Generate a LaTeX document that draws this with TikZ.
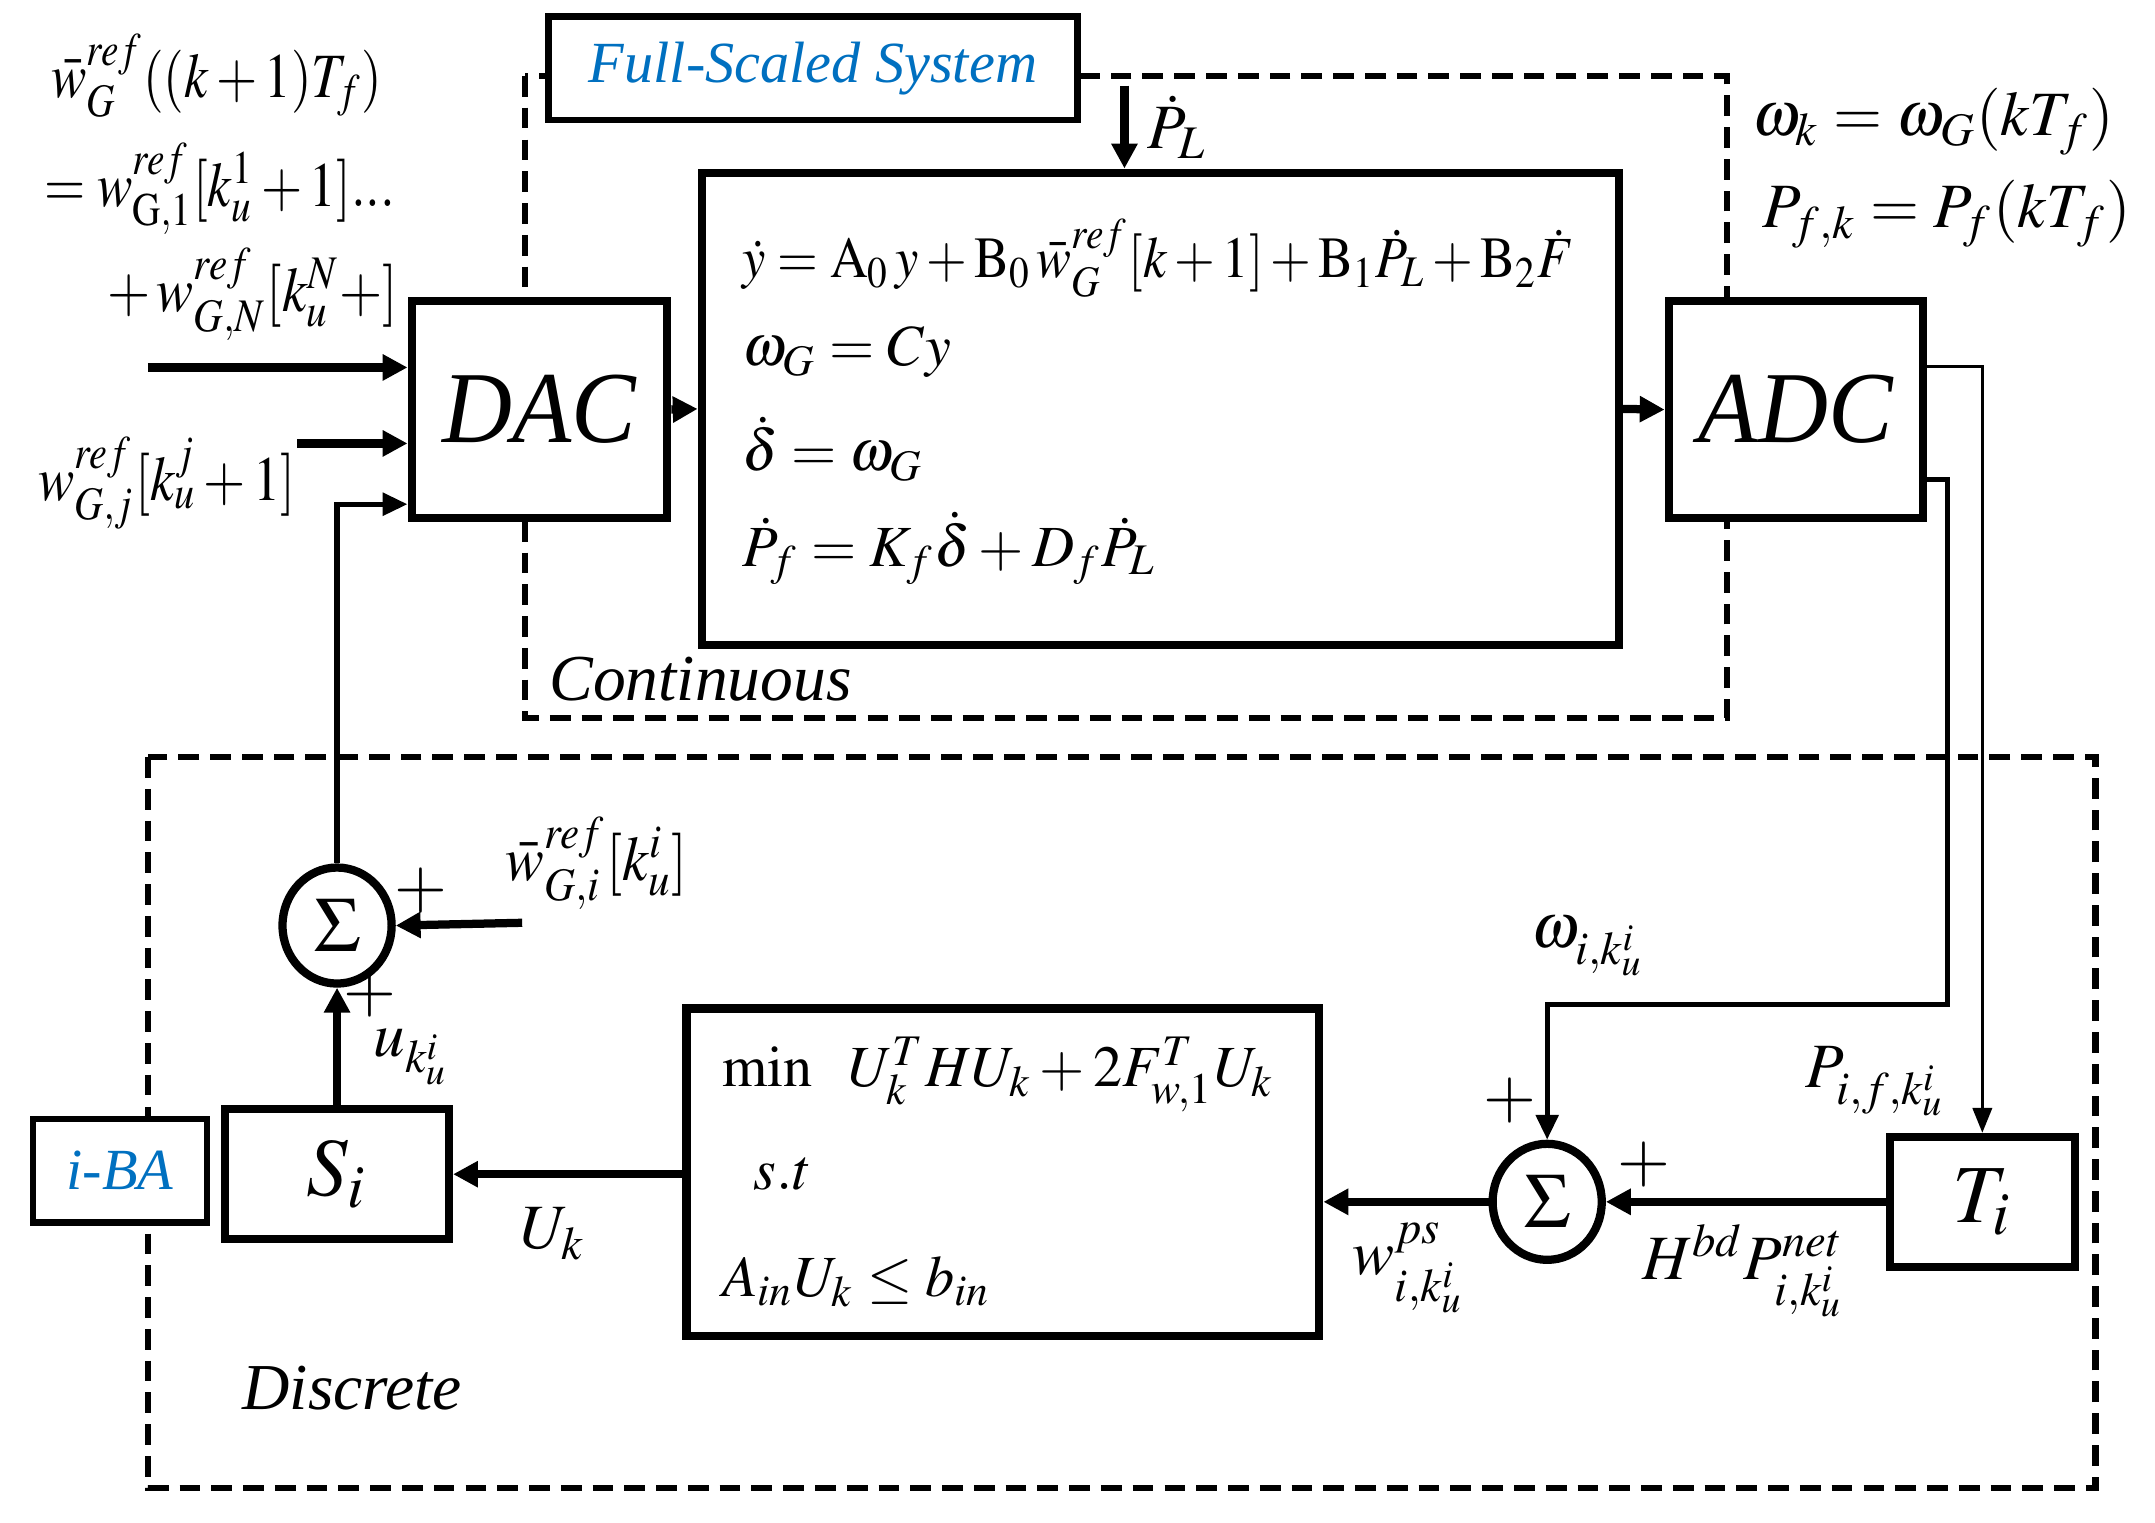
\documentclass[tikz,border=0pt]{standalone}
\usepackage{mathptmx}
\usepackage[no-math]{fontspec}
\setmainfont{Liberation Serif}
\usetikzlibrary{arrows.meta,shapes.geometric}
\definecolor{baBlue}{RGB}{0,112,192}
\newcommand{\hsq}[2]{\scalebox{#1}[1]{#2}}
\begin{document}
\begin{tikzpicture}[x=0.1mm,y=-0.1mm,
  blk/.style={draw, line width=1.7pt, fill=white, inner sep=0pt},
  lbox/.style={draw, line width=1.3pt, fill=white, inner sep=0pt},
  dbox/.style={draw, line width=1.3pt, dash pattern=on 1.5mm off 0.8mm},
  thk/.style={line width=1.7pt, -{Triangle[length=1.8mm,width=1.8mm]}},
  med/.style={line width=1.1pt, -{Triangle[length=1.8mm,width=1.6mm]}},
  thn/.style={line width=0.6pt, -{Triangle[length=1.8mm,width=1.4mm]}},
  sumc/.style={draw, line width=1.7pt, ellipse, fill=white, inner sep=0pt,
     minimum width=7.9mm, minimum height=8.4mm, font=\fontsize{16}{18}\selectfont},
  fa/.style={font=\fontsize{12}{14}\selectfont, inner sep=0pt},
  fb/.style={font=\fontsize{13}{15}\selectfont, inner sep=0pt},
  fc/.style={font=\fontsize{13.5}{16}\selectfont\itshape, inner sep=0pt},
  fbig/.style={font=\fontsize{21}{24}\selectfont\itshape},
  fsym/.style={font=\fontsize{17}{20}\selectfont},
  plus/.style={font=\fontsize{14}{16}\selectfont, inner sep=0pt}
]
\useasboundingbox (0,0) rectangle (1560,1102);
% dashed regions
\draw[dbox] (380,55) rectangle (1250,520);
\draw[dbox] (107,548) rectangle (1517,1077);
% blocks
\node[lbox, minimum width=38.3mm, minimum height=7.5mm, font=\fontsize{12}{14}\selectfont\itshape, text=baBlue] (fs) at (588.5,49.5) {Full-Scaled System};
\node[blk, minimum width=18.5mm, minimum height=15.7mm, fbig] (dac) at (390.5,296.5) {\hsq{0.95}{DAC}};
\node[blk, minimum width=66.4mm, minimum height=34.2mm] (main) at (840,296) {};
\node[blk, minimum width=18.4mm, minimum height=15.7mm, fbig] (adc) at (1300,296.5) {\hsq{0.95}{ADC}};
\node[lbox, minimum width=12.6mm, minimum height=7.5mm, font=\fontsize{12}{14}\selectfont\itshape, text=baBlue] (iba) at (87,847.5) {i-BA};
\node[blk, minimum width=16.2mm, minimum height=9.4mm, fsym] (si) at (244,850) {$S_i$};
\node[blk, minimum width=45.8mm, minimum height=23.7mm] (opt) at (726,848.5) {};
\node[blk, minimum width=13.4mm, minimum height=9.4mm, fsym] (ti) at (1435,870) {$T_i$};
\node[sumc] (s1) at (244,670) {$\Sigma$};
\node[sumc] (s2) at (1120,870) {$\Sigma$};
% coordinates for free ends
\coordinate (in1) at (107,266);
\coordinate (in2) at (215,321);
\coordinate (pl) at (814,62);
\coordinate (wi) at (378,668);
\coordinate (bend) at (1410,727);
% connectors
\draw[thk] (in1) -- (in1 -| dac.west);
\draw[thk] (in2) -- (in2 -| dac.west);
\draw[med] (s1.north) |- ([yshift=-6.85mm]dac.west);
\draw[thk] (dac.east) -- (main.west);
\draw[thk] (main.east) -- (adc.west);
\draw[thk] (pl) -- (pl |- main.north);
\draw[thn] ([yshift=3.15mm]adc.east) -| (ti.north);
\draw[med] ([yshift=-5.05mm]adc.east) -| (bend) -| (s2.north);
\draw[thk] (wi) -- (s1.east);
\draw[thk] (si.north) -- (s1.south);
\draw[thk] (opt.west |- si.east) -- (si.east);
\draw[thk] (s2.west) -- (s2.west -| opt.east);
\draw[thk] (ti.west) -- (s2.east);
% labels top-left
\node[fb] (l1) at (157,55) {\hsq{0.84}{$\bar{w}_G^{ref}((k+1)T_f)$}};
\node[fb] (l2) at (159,137) {\hsq{0.84}{$=w_{\mathrm{G},1}^{ref}[k_u^1+1]...$}};
\node[fb] (l3) at (183,213) {\hsq{0.88}{$+\,w_{G,N}^{ref}[k_u^N+]$}};
\node[fb] (l4) at (121,350) {\hsq{0.86}{$w_{G,j}^{ref}[k_u^j+1]$}};
\node[fb, anchor=west] (lpl) at (830,92) {$\dot{P}_L$};
\node[fb, anchor=west] (lw) at (1268,88) {$\omega_k=\omega_G(kT_f)$};
\node[fb, anchor=west] (lp) at (1275,155) {$P_{f,k}=P_f(kT_f)$};
% main equations
\node[fa, anchor=west] (e1) at (537,187) {\hsq{0.9}{$\dot{y}=\mathrm{A}_0\,y+\mathrm{B}_0\,\bar{w}_G^{ref}[k+1]+\mathrm{B}_1\dot{P}_L+\mathrm{B}_2\dot{F}$}};
\node[fa, anchor=west] (e2) at (537,255) {$\omega_G=Cy$};
\node[fa, anchor=west] (e3) at (537,325) {$\dot{\delta}=\omega_G$};
\node[fa, anchor=west] (e4) at (537,397) {$\dot{P}_f=K_f\dot{\delta}+D_f\dot{P}_L$};
\node[fc, anchor=west] (cont) at (397,492) {Continuous};
% discrete labels
\node[fb] (lwi) at (432,625) {\hsq{0.92}{$\bar{w}_{G,i}^{ref}[k_u^i]$}};
\node[plus] (p1) at (305,645) {$+$};
\node[plus] (p2) at (268,720) {$+$};
\node[plus] (p3) at (1093,797) {$+$};
\node[plus] (p4) at (1190,843) {$+$};
\node[fb] (lu) at (298,765) {$u_{k_u^i}$};
\node[fb] (luk) at (400,893) {$U_k$};
\node[fa, anchor=west] (o1) at (522,778) {$\min\ \ U_k^T H U_k+2F_{w,1}^T U_k$};
\node[fa, anchor=west] (o2) at (545,850) {$s.t$};
\node[fa, anchor=west] (o3) at (522,928) {$A_{in}U_k\le b_{in}$};
\node[fb] (lwps) at (1020,918) {$w^{ps}_{i,k_u^i}$};
\node[fb] (lh) at (1262,920) {$H^{bd}P^{net}_{i,k_u^i}$};
\node[fb] (lom) at (1150,685) {$\omega_{i,k_u^i}$};
\node[fb] (lpf) at (1358,783) {$P_{i,f,k_u^i}$};
\node[fc] (disc) at (255,1005) {Discrete};
\end{tikzpicture}
\end{document}
